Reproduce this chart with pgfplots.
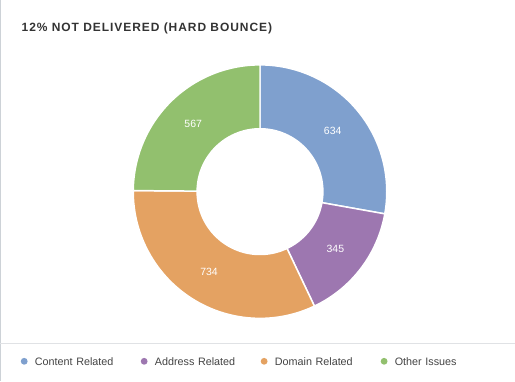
\documentclass[border=0pt]{standalone}
\usepackage{fontspec}
\setmainfont{Liberation Sans}
\newfontfamily\titlefont{Liberation Sans}[LetterSpace=8]
\usepackage{pgfplots}
\usepackage{pgfplotstable}
\pgfplotsset{compat=1.18}
\definecolor{cA}{RGB}{127,160,206}
\definecolor{cB}{RGB}{157,119,176}
\definecolor{cC}{RGB}{228,162,98}
\definecolor{cD}{RGB}{146,192,110}
\definecolor{titlec}{RGB}{51,51,51}
\definecolor{legc}{RGB}{68,68,68}
\definecolor{sepc}{RGB}{224,226,229}
\definecolor{edgec}{RGB}{205,210,215}

\pgfplotstableread{
name value
Content 634
Address 345
Domain 734
Other 567
}\donutdata

\begin{document}
\begin{tikzpicture}
\pgfplotstablegetelem{0}{value}\of\donutdata\edef\vA{\pgfplotsretval}
\pgfplotstablegetelem{1}{value}\of\donutdata\edef\vB{\pgfplotsretval}
\pgfplotstablegetelem{2}{value}\of\donutdata\edef\vC{\pgfplotsretval}
\pgfplotstablegetelem{3}{value}\of\donutdata\edef\vD{\pgfplotsretval}
\pgfmathsetmacro\tot{\vA+\vB+\vC+\vD}
\pgfmathsetmacro\aA{90}
\pgfmathsetmacro\aB{90-360*(\vA/\tot)}
\pgfmathsetmacro\aC{90-360*((\vA+\vB)/\tot)}
\pgfmathsetmacro\aD{90-360*((\vA+\vB+\vC)/\tot)}
\pgfmathsetmacro\aE{90-360}
\def\cx{260}\def\cy{189.5}\def\Ro{127}\def\Ri{63}\def\Rl{95}
\begin{axis}[
  width=515bp, height=381bp, scale only axis,
  xmin=0, xmax=515, ymin=0, ymax=381,
  hide axis, clip=false,
  declare function={
    donr(\s)=ifthenelse(\s<1,\Ro,ifthenelse(\s<2,\Ro-(\Ro-\Ri)*(\s-1),ifthenelse(\s<3,\Ri,\Ri+(\Ro-\Ri)*(\s-3))));
    dona(\s,\a,\b)=ifthenelse(\s<1,\a+(\b-\a)*\s,ifthenelse(\s<2,\b,ifthenelse(\s<3,\b+(\a-\b)*(\s-2),\a)));
  },
  domain=0:4, samples=241,
  legend columns=4,
  legend style={
    at={(axis cs:20.4,18.6)}, anchor=west,
    draw=none, fill=none, inner sep=0pt, outer sep=0pt,
    font=\fontsize{10.8bp}{12bp}\selectfont, text=legc,
    nodes={inner sep=0pt, text width=106.1bp, align=left},
    /tikz/every odd column/.append style={column sep=7.4bp},
    /tikz/every even column/.append style={column sep=0bp},
  },
]
\fill[white] (axis cs:0,0) rectangle (axis cs:515,381);
\draw[edgec, line width=1bp] (axis cs:0.5,0) -- (axis cs:0.5,381);
\draw[sepc, line width=1bp] (axis cs:0,37) -- (axis cs:515,37);

\addplot[fill=cA, draw=white, line width=1.5bp,
  legend image code/.code={\fill[cA] (2.6bp,0.9bp) circle (2.6bp);}]
  ({\cx+donr(x)*cos(dona(x,\aA,\aB))}, {\cy+donr(x)*sin(dona(x,\aA,\aB))});
\addlegendentry{Content Related}
\addplot[fill=cB, draw=white, line width=1.5bp,
  legend image code/.code={\fill[cB] (2.6bp,0.9bp) circle (2.6bp);}]
  ({\cx+donr(x)*cos(dona(x,\aB,\aC))}, {\cy+donr(x)*sin(dona(x,\aB,\aC))});
\addlegendentry{Address Related}
\addplot[fill=cC, draw=white, line width=1.5bp,
  legend image code/.code={\fill[cC] (2.6bp,0.9bp) circle (2.6bp);}]
  ({\cx+donr(x)*cos(dona(x,\aC,\aD))}, {\cy+donr(x)*sin(dona(x,\aC,\aD))});
\addlegendentry{Domain Related}
\addplot[fill=cD, draw=white, line width=1.5bp,
  legend image code/.code={\fill[cD] (2.6bp,0.9bp) circle (2.6bp);}]
  ({\cx+donr(x)*cos(dona(x,\aD,\aE))}, {\cy+donr(x)*sin(dona(x,\aD,\aE))});
\addlegendentry{Other Issues}

\pgfmathsetmacro\mA{(\aA+\aB)/2}
\pgfmathsetmacro\mB{(\aB+\aC)/2}
\pgfmathsetmacro\mC{(\aC+\aD)/2}
\pgfmathsetmacro\mD{(\aD+\aE)/2}
\node[white, font=\fontsize{10.5bp}{12bp}\selectfont] at (axis cs:{\cx+\Rl*cos(\mA)},{\cy+\Rl*sin(\mA)}) {\vA};
\node[white, font=\fontsize{10.5bp}{12bp}\selectfont] at (axis cs:{\cx+\Rl*cos(\mB)},{\cy+\Rl*sin(\mB)}) {\vB};
\node[white, font=\fontsize{10.5bp}{12bp}\selectfont] at (axis cs:{\cx+\Rl*cos(\mC)},{\cy+\Rl*sin(\mC)}) {\vC};
\node[white, font=\fontsize{10.5bp}{12bp}\selectfont] at (axis cs:{\cx+\Rl*cos(\mD)},{\cy+\Rl*sin(\mD)}) {\vD};

\node[anchor=base west, inner sep=0pt, text=titlec, font=\titlefont\bfseries\fontsize{12bp}{14bp}\selectfont]
  at (axis cs:21,349.5) {12\% NOT DELIVERED (HARD BOUNCE)};
\end{axis}
\end{tikzpicture}
\end{document}
